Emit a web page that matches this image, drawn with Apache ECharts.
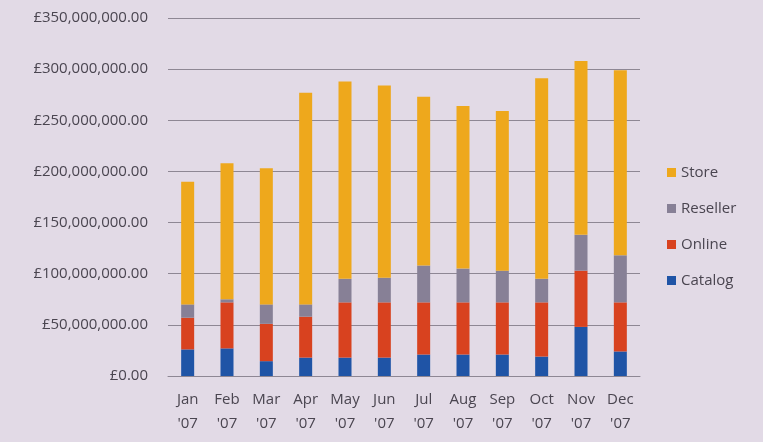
<!DOCTYPE html>
<html>
<head>
<meta charset="utf-8">
<script src="https://cdn.jsdelivr.net/npm/echarts@6/dist/echarts.min.js"></script>
<style>
html,body{margin:0;padding:0;background:#e2dae6;}
#chart{width:763px;height:442px;}
</style>
</head>
<body>
<div id="chart"></div>
<script>
const categories = ["Jan\n'07","Feb\n'07","Mar\n'07","Apr\n'07","May\n'07","Jun\n'07","Jul\n'07","Aug\n'07","Sep\n'07","Oct\n'07","Nov\n'07","Dec\n'07"];
const catalog  = [26e6, 27e6, 14.5e6, 18e6, 18e6, 18e6, 21e6, 21e6, 21e6, 19e6, 48e6, 24e6];
const online   = [31e6, 45e6, 36.5e6, 40e6, 54e6, 54e6, 51e6, 51e6, 51e6, 53e6, 55e6, 48e6];
const reseller = [13e6, 3e6, 19e6, 12e6, 23e6, 24e6, 36e6, 33e6, 31e6, 23e6, 35e6, 46e6];
const store    = [120e6, 133e6, 133e6, 207e6, 193e6, 188e6, 165e6, 159e6, 156e6, 196e6, 170e6, 181e6];
const legendOrder = ['Store','Reseller','Online','Catalog'];
const colors = {Catalog:'#1f54a6', Online:'#d8421f', Reseller:'#878096', Store:'#eea81c'};

const chart = echarts.init(document.getElementById('chart'));
const fontFamily = 'Open Sans, Noto Sans, sans-serif';
function mk(name, data){
  return {name, type:'bar', stack:'total', data, barWidth:13,
    itemStyle:{color:colors[name]}};
}
chart.setOption({
  backgroundColor:'#e2dae6',
  animation:false,
  textStyle:{fontFamily},
  grid:{left:168, right:123, top:18, bottom:66},
  legend:{
    data:legendOrder, orient:'vertical', left:662, top:160,
    icon:'rect', itemWidth:9, itemHeight:9, itemGap:21,
    textStyle:{fontSize:15, color:'#4a4550', fontFamily}
  },
  xAxis:{
    type:'category', data:categories,
    axisTick:{show:false},
    axisLine:{lineStyle:{color:'#8e8794'}},
    axisLabel:{fontSize:15, color:'#4a4550', lineHeight:24, margin:12, interval:0}
  },
  yAxis:{
    type:'value', min:0, max:350e6, interval:50e6,
    axisLine:{show:false},
    axisTick:{show:false},
    splitLine:{lineStyle:{color:'#8e8794', width:1}},
    axisLabel:{fontSize:15, color:'#4a4550', margin:20,
      formatter:v=>'£'+v.toLocaleString('en-GB',{minimumFractionDigits:2, maximumFractionDigits:2})}
  },
  series:[mk('Catalog',catalog), mk('Online',online), mk('Reseller',reseller), mk('Store',store)]
});
</script>
</body>
</html>
